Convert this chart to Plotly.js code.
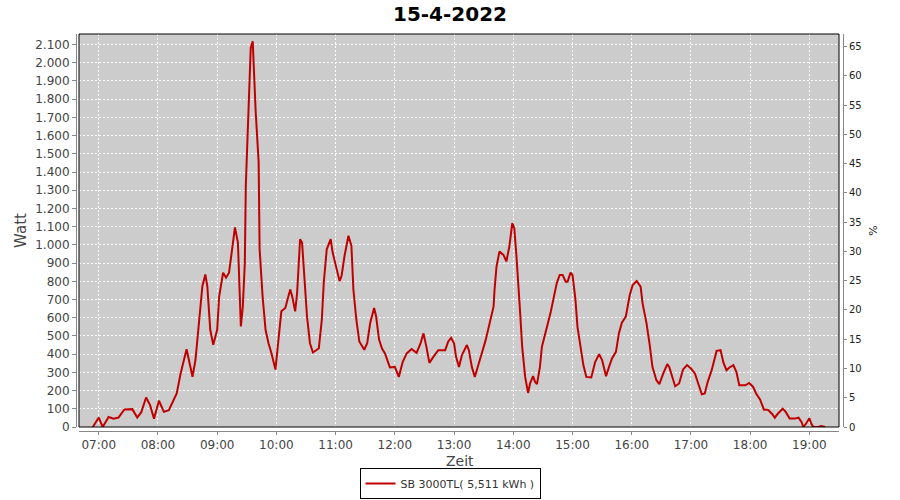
<!DOCTYPE html>
<html>
<head>
<meta charset="utf-8">
<script src="https://cdn.plot.ly/plotly-3.0.1.min.js"></script>
<style>html,body{margin:0;padding:0;background:#fff;}#chart{width:900px;height:500px;}</style>
</head>
<body>
<div id="chart"></div>
<script>
const day = "2022-04-15";
const times = [
"06:54","07:00","07:04","07:10","07:15","07:20","07:26","07:34","07:39","07:43","07:48","07:52","07:56","08:01","08:06","08:11","08:19","08:23","08:29","08:32","08:35","08:38","08:42","08:45","08:48","08:50","08:53","08:56","09:00","09:02","09:06","09:09","09:12","09:15","09:18","09:21","09:23","09:24","09:26","09:28","09:29","09:32","09:34","09:36","09:37","09:39","09:42","09:43","09:46","09:49","09:52","09:55","09:59",
"10:03","10:05","10:09","10:14","10:16","10:19","10:21","10:24","10:26","10:29","10:31","10:34","10:37","10:41","10:43","10:46","10:48","10:51","10:55","10:57","11:01","11:04","11:06","11:09","11:13","11:16","11:18","11:21","11:24","11:29","11:32","11:35","11:39","11:41","11:44","11:47","11:50","11:55","12:00","12:04","12:08","12:12","12:17","12:22","12:26","12:29","12:32","12:35","12:39","12:44","12:51","12:54","12:57","13:00","13:02","13:05","13:08","13:13","13:15","13:18","13:21","13:24","13:28","13:32","13:36","13:40","13:41","13:43","13:46","13:50","13:53","13:56","13:59","14:01","14:03","14:05","14:07","14:09","14:12","14:15","14:17","14:20","14:22","14:24","14:27","14:29","14:32","14:35","14:38","14:41","14:44","14:47","14:50","14:53","14:55","14:58","15:00","15:03","15:05","15:08","15:11","15:14","15:19","15:23","15:27","15:30","15:34","15:37","15:40","15:44","15:47","15:50","15:54","15:58","16:01","16:05","16:09","16:11","16:15","16:18","16:21","16:25","16:28","16:32","16:36","16:38","16:41","16:44","16:48","16:52","16:56","17:00","17:04","17:07","17:11","17:14","17:17","17:21","17:24","17:26","17:30","17:33","17:36","17:39","17:43","17:46","17:49","17:55","17:59","18:03","18:06","18:10","18:14","18:18","18:22","18:25","18:28","18:33","18:36","18:40","18:45","18:49","18:52","18:54","18:57","19:00","19:02","19:04","19:09","19:12","19:16"
];
const watt = [
0,52,0,55,46,52,96,98,52,80,162,120,46,144,83,92,184,295,427,350,276,368,589,773,838,773,534,451,534,718,847,820,847,958,1096,1013,681,552,663,902,1326,1842,2081,2118,1989,1731,1455,976,718,534,460,405,315,
534,635,654,755,718,635,737,1031,1013,792,608,460,409,424,433,589,792,976,1031,958,866,801,829,939,1050,994,755,589,470,424,460,571,654,608,480,431,404,327,330,275,358,404,428,407,459,514,440,352,385,422,422,468,490,459,385,330,395,450,422,330,275,330,404,477,569,661,753,881,964,945,909,991,1120,1092,954,808,624,441,275,187,239,279,248,235,330,441,514,569,633,716,789,835,835,798,798,848,835,698,551,445,340,275,272,358,400,367,279,330,376,413,514,573,606,725,780,802,771,679,569,459,330,257,235,294,345,330,275,224,239,316,340,321,294,239,180,184,248,312,376,418,422,352,312,327,340,303,229,229,242,220,184,151,95,95,73,51,73,101,83,46,46,51,28,0,22,48,18,0,0,5,0
];
const hourTicks = ["07:00","08:00","09:00","10:00","11:00","12:00","13:00","14:00","15:00","16:00","17:00","18:00","19:00"];
const seriesName = "SB 3000TL( 5,511 kWh )";
const chartTitle = "15-4-2022";
const xTitle = "Zeit";

const xs = times.map(t => day + " " + t);
const W = 900, H = 500;
const mL = 76, mR = 57, mT = 34, mB = 69;
const pw = W - mL - mR, ph = H - mT - mB;
const yMax = 2158, pMax = 67.15;

const traces = [
  {x: xs, y: watt, type: "scatter", mode: "lines", name: seriesName,
   line: {color: "#c00000", width: 2}, hoverinfo: "skip"},
  {x: [xs[0]], y: [0], type: "scatter", mode: "lines", yaxis: "y2", showlegend: false,
   line: {color: "rgba(0,0,0,0)", width: 0}, hoverinfo: "skip"}
];

const grayAxis = "#888888";
const layout = {
  width: W, height: H,
  margin: {l: mL, r: mR, t: mT, b: mB, pad: 0, autoexpand: false},
  paper_bgcolor: "#ffffff",
  plot_bgcolor: "#cccccc",
  separators: ",.",
  font: {family: "DejaVu Sans, sans-serif", size: 12, color: "#444444"},
  title: {text: chartTitle, x: 0.5, xref: "container", y: 1 - 14/H, yref: "container", yanchor: "middle",
          font: {family: "DejaVu Sans, sans-serif", size: 20, color: "#000000", weight: "bold"}},
  showlegend: true,
  legend: {orientation: "h", x: 0.5, xref: "container", xanchor: "center",
           y: 1 - 499/H, yref: "container", yanchor: "bottom",
           itemwidth: 30,
           bordercolor: "#000000", borderwidth: 1, bgcolor: "#ffffff",
           font: {family: "DejaVu Sans, sans-serif", size: 11, color: "#333333"}},
  xaxis: {
    type: "date",
    automargin: false,
    domain: [3/pw, 1 - 4/pw],
    range: [day + " 06:40", day + " 19:30"],
    tickvals: hourTicks.map(t => day + " " + t),
    ticktext: hourTicks,
    anchor: "free", position: 0,
    showline: true, linecolor: grayAxis, linewidth: 1,
    ticks: "outside", ticklen: 3, tickcolor: grayAxis,
    showgrid: true, gridcolor: "#ffffff", gridwidth: 1, griddash: "2px,2px",
    zeroline: false,
    tickfont: {size: 12, color: "#444444"}
  },
  yaxis: {
    automargin: false,
    domain: [4/ph, 1],
    range: [0, yMax],
    dtick: 100, tick0: 0,
    tickformat: ",d",
    anchor: "free", position: 0,
    showline: true, linecolor: grayAxis, linewidth: 1,
    ticks: "outside", ticklen: 4, tickcolor: grayAxis,
    showgrid: true, gridcolor: "#ffffff", gridwidth: 1, griddash: "2px,2px",
    zeroline: false,
    tickfont: {size: 12, color: "#444444"},
    title: {text: "Watt", font: {size: 15, color: "#444444"}, standoff: 3}
  },
  yaxis2: {
    automargin: false,
    overlaying: "y", side: "right",
    range: [0, pMax],
    dtick: 5, tick0: 0,
    anchor: "free", position: 1,
    showline: true, linecolor: grayAxis, linewidth: 1,
    ticks: "outside", ticklen: 3, tickcolor: grayAxis,
    showgrid: false, zeroline: false,
    tickfont: {size: 10, color: "#222222"},
    title: {text: "%", font: {size: 11, color: "#222222"}, standoff: 8}
  },
  annotations: [
    {text: xTitle, xref: "paper", yref: "paper", x: 0.5, y: (mT + ph - 461)/ph,
     xanchor: "center", yanchor: "middle", showarrow: false,
     font: {family: "DejaVu Sans, sans-serif", size: 14, color: "#444444"}}
  ],
  shapes: [
    {type: "rect", xref: "x domain", yref: "y domain", x0: 0, x1: 1, y0: 0, y1: 1,
     line: {color: "#000000", width: 1}, fillcolor: "rgba(0,0,0,0)", layer: "above"}
  ]
};

Plotly.newPlot("chart", traces, layout, {displayModeBar: false, staticPlot: true});
</script>
</body>
</html>
